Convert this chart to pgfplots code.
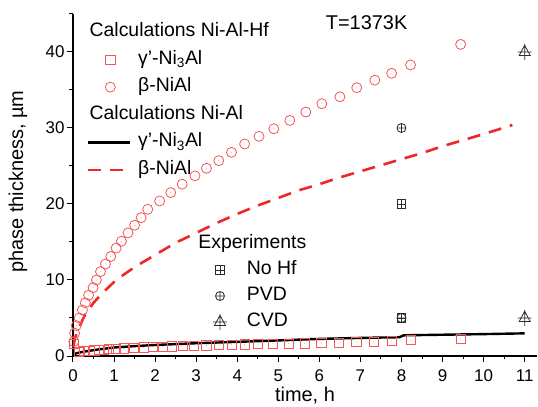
\documentclass[border=0pt]{standalone}
\usepackage{fontspec}
\setmainfont{Liberation Sans}
\usepackage{pgfplots}
\pgfplotsset{compat=1.18}
\definecolor{calcred}{RGB}{238,40,40}
\definecolor{markred}{RGB}{245,85,85}
\definecolor{expgray}{RGB}{45,45,45}

% open marks with the small centre dot Origin draws
\pgfdeclareplotmark{cdot}{%
  \pgfpathcircle{\pgfpointorigin}{\pgfplotmarksize}\pgfusepathqstroke
  \pgfpathcircle{\pgfpointorigin}{0.35bp}\pgfusepathqfill}
\pgfdeclareplotmark{sdot}{%
  \pgfpathrectanglecorners{\pgfqpoint{-\pgfplotmarksize}{-\pgfplotmarksize}}{\pgfqpoint{\pgfplotmarksize}{\pgfplotmarksize}}\pgfusepathqstroke
  \pgfpathcircle{\pgfpointorigin}{0.35bp}\pgfusepathqfill}
% experiment marks
\pgfdeclareplotmark{sqplus}{%
  \pgfpathrectanglecorners{\pgfqpoint{-\pgfplotmarksize}{-\pgfplotmarksize}}{\pgfqpoint{\pgfplotmarksize}{\pgfplotmarksize}}%
  \pgfpathmoveto{\pgfqpoint{-\pgfplotmarksize}{0pt}}\pgfpathlineto{\pgfqpoint{\pgfplotmarksize}{0pt}}%
  \pgfpathmoveto{\pgfqpoint{0pt}{-\pgfplotmarksize}}\pgfpathlineto{\pgfqpoint{0pt}{\pgfplotmarksize}}%
  \pgfusepathqstroke}
\pgfdeclareplotmark{triplus}{%
  \pgfpathmoveto{\pgfqpoint{0pt}{1.35\pgfplotmarksize}}%
  \pgfpathlineto{\pgfqpoint{-1.1\pgfplotmarksize}{-0.7\pgfplotmarksize}}%
  \pgfpathlineto{\pgfqpoint{1.1\pgfplotmarksize}{-0.7\pgfplotmarksize}}%
  \pgfpathclose
  \pgfpathmoveto{\pgfqpoint{-1.4\pgfplotmarksize}{0pt}}\pgfpathlineto{\pgfqpoint{1.4\pgfplotmarksize}{0pt}}%
  \pgfpathmoveto{\pgfqpoint{0pt}{1.6\pgfplotmarksize}}\pgfpathlineto{\pgfqpoint{0pt}{-1.6\pgfplotmarksize}}%
  \pgfusepathqstroke}

\pgfplotsset{
  base/.style={
    scale only axis, width=464bp, height=342bp,
    xmin=0, xmax=11.3, ymin=0, ymax=45,
    legend cell align=left,
    legend image code/.code={%
      \draw[mark repeat=2,mark phase=2,##1] plot coordinates {(0bp,0bp)(22bp,0bp)(42bp,0bp)};
      \path (46bp,0bp);},
  },
  leg/.style={draw=none, fill=none, inner sep=0pt, outer sep=0pt,
    column sep=2bp, font=\fontsize{19.5}{19.5}\selectfont,
    nodes={inner sep=0.5bp, text height=14bp, text depth=5bp}},
}
\newcommand{\ttl}[1]{\hspace*{-48.5bp}#1}

\begin{document}
\begin{tikzpicture}
\begin{axis}[base,
  axis x line=bottom, axis y line=left,
  axis line style={-, line width=1.1bp},
  tick align=outside,
  xtick={0,1,...,11}, ytick={0,10,...,40},
  minor xtick={0.5,1.5,...,10.5}, minor ytick={5,15,25,35,45},
  major tick length=6bp, minor tick length=3.5bp,
  tick style={line width=1bp, black},
  ticklabel style={font=\fontsize{17}{17}\selectfont},
  xticklabel style={yshift=-4bp},
  yticklabel style={xshift=1bp},
  /pgf/number format/assume math mode=true,
  xlabel={time, h}, ylabel={phase thickness, µm},
  label style={font=\fontsize{20}{20}\selectfont},
  xlabel style={at={(axis description cs:0.5,0)}, anchor=base, yshift=-45bp},
  ylabel style={at={(axis description cs:0,0.51)}, anchor=center, yshift=55bp},
  legend style={leg, at={(0.0302,0.9766)}, anchor=north west, row sep=7.6bp},
]
\coordinate (o) at (rel axis cs:0,0);

\addlegendimage{empty legend}
\addlegendentry{\ttl{Calculations Ni-Al-Hf}}

% gamma' Ni3Al, Ni-Al-Hf
\addplot[only marks, mark=sdot, mark size=4.6bp, markred, line width=0.8bp] coordinates {
(0.02,1.6)(0.15,0.55)(0.27,0.62)(0.40,0.68)(0.52,0.74)(0.64,0.80)(0.76,0.85)
(0.88,0.90)(1.05,0.96)(1.24,1.01)(1.48,1.07)(1.72,1.12)(1.95,1.17)(2.18,1.22)
(2.40,1.26)(2.68,1.31)(2.95,1.35)(3.25,1.40)(3.56,1.44)(3.86,1.48)(4.18,1.52)
(4.51,1.56)(4.87,1.60)(5.25,1.64)(5.64,1.67)(6.05,1.70)(6.48,1.75)(6.90,1.82)
(7.32,1.90)(7.76,1.98)(8.22,2.08)(9.44,2.28)};
\addlegendentry{γ'-Ni\textsubscript{3}Al}

% beta NiAl, Ni-Al-Hf
\addplot[only marks, mark=cdot, mark size=5bp, markred, line width=0.8bp] coordinates {
(0.02,1.9)(0.04,3.0)(0.08,4.0)(0.15,5.0)(0.23,6.05)(0.30,7.0)(0.38,8.0)
(0.49,9.0)(0.57,10.0)(0.67,11.1)(0.79,12.1)(0.92,13.1)(1.05,14.2)(1.18,15.1)
(1.34,16.2)(1.50,17.2)(1.66,18.2)(1.82,19.3)(2.11,20.4)(2.38,21.5)(2.66,22.6)
(2.97,23.7)(3.25,24.7)(3.55,25.7)(3.86,26.8)(4.18,27.9)(4.53,28.9)(4.89,29.9)
(5.28,31.0)(5.67,32.1)(6.06,33.2)(6.50,34.1)(6.91,35.3)(7.35,36.3)(7.76,37.2)
(8.22,38.3)(9.44,41.0)};
\addlegendentry{β-NiAl}

\addlegendimage{empty legend}
\addlegendentry{\ttl{Calculations Ni-Al}}

% gamma' Ni3Al, Ni-Al
\addplot[black, line width=2.4bp] coordinates {
(0,0.1)(0.05,0.3)(0.15,0.45)(0.3,0.6)(0.6,0.85)(1,1.12)(1.5,1.3)(2,1.45)
(3,1.68)(4,1.86)(5,2.05)(6,2.25)(7,2.38)(7.95,2.47)(8.05,2.72)(9,2.8)
(10,2.88)(11,2.98)};
\addlegendentry{γ'-Ni\textsubscript{3}Al}

% beta NiAl, Ni-Al
\addplot[calcred, line width=2.6bp, dash pattern=on 13bp off 9bp] coordinates {
(0.01,1.2)(0.05,2.4)(0.15,3.8)(0.3,5.5)(0.5,7.0)(0.7,8.2)(1.05,10.0)(1.5,11.7)
(2,13.3)(2.5,14.9)(3,16.2)(3.5,17.5)(4,18.7)(4.5,19.8)(5,20.8)(5.5,21.8)
(6,22.6)(6.5,23.5)(7,24.3)(7.5,25.1)(8,25.9)(8.5,26.7)(9,27.6)(9.5,28.4)
(10,29.2)(10.5,30.05)(10.7,30.4)};
\addlegendentry{β-NiAl}

\node[font=\fontsize{20}{20}\selectfont] at (axis cs:7.15,43.8) {T=1373K};
\end{axis}

\begin{axis}[base, hide axis,
  legend style={leg, at={(0.2694,0.3567)}, anchor=north west, row sep=6bp},
]
\addlegendimage{empty legend}
\addlegendentry{\ttl{Experiments}}
\addplot[only marks, mark=sqplus, mark size=4.3bp, expgray, line width=0.8bp] coordinates {(8,20)(8,5)};
\addlegendentry{No Hf}
\addplot[only marks, mark=oplus, mark size=4.5bp, expgray, line width=0.8bp, fill=none] coordinates {(8,30)(8,5)};
\addlegendentry{PVD}
\addplot[only marks, mark=triplus, mark size=5bp, expgray, line width=0.8bp] coordinates {(11,40)(11,5)};
\addlegendentry{CVD}
\end{axis}

\pgfresetboundingbox
\path[use as bounding box] (o) ++(-73bp,-51bp) rectangle ++(538bp,407bp);
\end{tikzpicture}
\end{document}
